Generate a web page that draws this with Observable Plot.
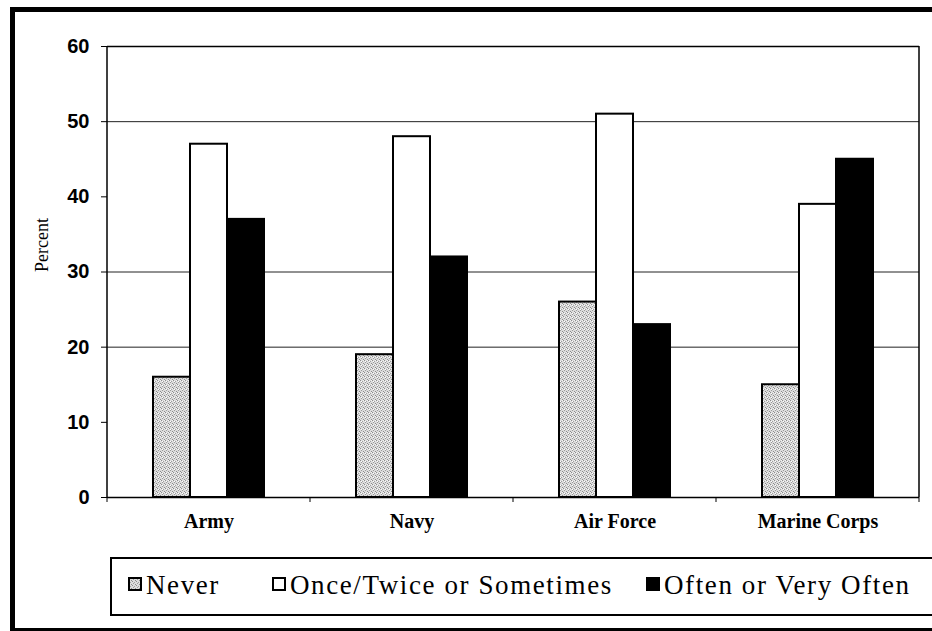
<!DOCTYPE html>
<html>
<head>
<meta charset="utf-8">
<script src="https://cdn.jsdelivr.net/npm/d3@7"></script>
<script src="https://cdn.jsdelivr.net/npm/@observablehq/plot@0.6"></script>
<style>
  html, body { margin: 0; padding: 0; background: #fff; overflow: hidden; }
  #page { position: relative; width: 932px; height: 631px; }
  #outer { position: absolute; left: 10px; top: 7px; width: 1000px; height: 624px; box-sizing: border-box;
           border-left: 5px solid #000; border-top: 5px solid #000; border-bottom: 3px solid #000; }
  #chart { position: absolute; left: 0; top: 0; }
  #legend { position: absolute; left: 0; top: 545px; }
  .serif-text { font-family: "Liberation Serif", "Times New Roman", "DejaVu Serif", serif; }
</style>
</head>
<body>
<div id="page">
  <div id="outer"></div>
  <div id="chart"></div>
  <div id="legend"></div>
</div>
<script>
const categories = ["Army", "Navy", "Air Force", "Marine Corps"];
const series = ["Never", "Once/Twice or Sometimes", "Often or Very Often"];
const neverValues = [16, 19, 26, 15];
const onceValues = [47, 48, 51, 39];
const oftenValues = [37, 32, 23, 45];
const yTicks = [0, 10, 20, 30, 40, 50, 60];
const gridValues = [20, 30, 50];
const yLabel = "Percent";

const seriesValues = [neverValues, onceValues, oftenValues];
const rows = [];
categories.forEach((c, i) => {
  series.forEach((s, j) => rows.push({category: c, series: s, value: seriesValues[j][i]}));
});

const fills = ["url(#never-stipple)", "#ffffff", "#000000"];
const serif = "'Liberation Serif', 'Times New Roman', serif";

const plot = Plot.plot({
  width: 932,
  height: 545,
  marginLeft: 106,
  marginRight: 12,
  marginTop: 46,
  marginBottom: 48,
  style: {fontFamily: "'Liberation Sans', Arial, sans-serif", fontSize: "20px", fontWeight: "bold", color: "#000", background: "transparent"},
  fx: {domain: categories, padding: 0, axis: null, label: null},
  x: {domain: series, paddingInner: 0, paddingOuter: 1.2, axis: null, label: null},
  y: {domain: [0, 60], ticks: yTicks, tickSize: 6, tickPadding: 12, label: null},
  color: {domain: series, range: fills},
  marks: [
    Plot.ruleY(gridValues, {stroke: "#222", strokeWidth: 1}),
    Plot.ruleY([60], {stroke: "#000", strokeWidth: 1.5}),
    Plot.ruleY([0], {stroke: "#000", strokeWidth: 1.5}),
    Plot.barY(rows, {fx: "category", x: "series", y: "value", fill: "series", stroke: "#000", strokeWidth: 2}),
    Plot.text(categories, {fx: d => d, text: d => d, frameAnchor: "bottom", dy: 30,
      fontFamily: serif, fontSize: 20, fontWeight: "bold", fill: "#000"}),
    Plot.text([yLabel], {fx: () => categories[0], text: d => d, frameAnchor: "left", dx: -65, rotate: -90,
      fontFamily: serif, fontSize: 18, fontWeight: "normal", fill: "#000"})
  ]
});

document.getElementById("chart").appendChild(plot);

const svg = d3.select(plot);

// stipple pattern for "Never" bars
const defs = svg.insert("defs", ":first-child");
const pat = defs.append("pattern").attr("id", "never-stipple").attr("patternUnits", "userSpaceOnUse")
  .attr("width", 4).attr("height", 4);
pat.append("rect").attr("width", 4).attr("height", 4).attr("fill", "#dcdcdc");
[[0,0,"#8c8c8c"],[2,1,"#a0a0a0"],[1,2,"#9a9a9a"],[3,3,"#8c8c8c"],[3,0,"#f4f4f4"],[1,1,"#ffffff"]].forEach(([px,py,c]) =>
  pat.append("rect").attr("x", px).attr("y", py).attr("width", 1).attr("height", 1).attr("fill", c));

// frame sides and category boundary ticks from Plot's own scales
const fx = plot.scale("fx");
const y = plot.scale("y");
const bw = fx.bandwidth;
const left = fx.apply(categories[0]);
const right = fx.apply(categories[categories.length - 1]) + bw;
const y0 = y.apply(0), yTop = y.apply(60);
const g = svg.append("g").attr("stroke", "#000");
g.append("line").attr("x1", left).attr("x2", left).attr("y1", yTop).attr("y2", y0).attr("stroke-width", 1.5);
g.append("line").attr("x1", right).attr("x2", right).attr("y1", yTop).attr("y2", y0).attr("stroke-width", 1.5);
const bounds = categories.map(c => fx.apply(c)).concat([right]);
bounds.forEach(b => g.append("line").attr("x1", b).attr("x2", b).attr("y1", y0).attr("y2", y0 + 5).attr("stroke-width", 1));

// legend
const lsvg = d3.select("#legend").append("svg").attr("width", 932).attr("height", 86);
const ldefs = lsvg.append("defs");
const lpat = ldefs.append("pattern").attr("id", "never-stipple-l").attr("patternUnits", "userSpaceOnUse")
  .attr("width", 4).attr("height", 4);
lpat.append("rect").attr("width", 4).attr("height", 4).attr("fill", "#dcdcdc");
[[0,0,"#8c8c8c"],[2,1,"#a0a0a0"],[1,2,"#9a9a9a"],[3,3,"#8c8c8c"]].forEach(([px,py,c]) =>
  lpat.append("rect").attr("x", px).attr("y", py).attr("width", 1).attr("height", 1).attr("fill", c));
lsvg.append("rect").attr("x", 111).attr("y", 13).attr("width", 900).attr("height", 57)
  .attr("fill", "none").attr("stroke", "#000").attr("stroke-width", 2);
const swatchX = [128, 272, 646];
const legendFills = ["url(#never-stipple-l)", "#ffffff", "#000000"];
series.forEach((s, i) => {
  lsvg.append("rect").attr("x", swatchX[i] + 1).attr("y", 33).attr("width", 12).attr("height", 12)
    .attr("fill", legendFills[i]).attr("stroke", "#000").attr("stroke-width", 2);
  lsvg.append("text").attr("x", swatchX[i] + 18).attr("y", 49).text(s)
    .attr("class", "serif-text")
    .style("font-size", "27px").style("letter-spacing", "1.6px").style("fill", "#000");
});
</script>
</body>
</html>
